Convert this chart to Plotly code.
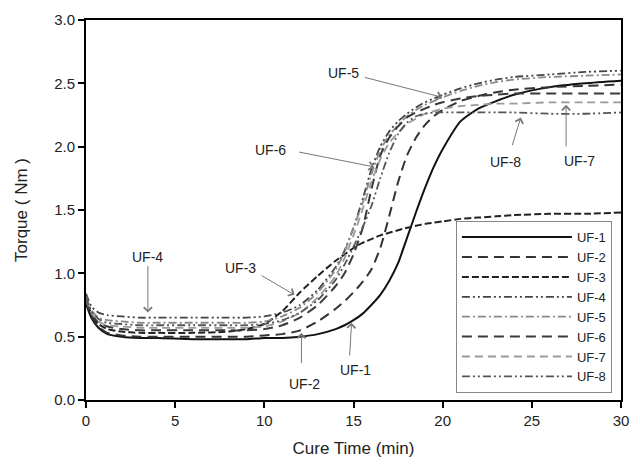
import plotly.graph_objects as go

# Cure time (min)
t = [0, 0.3, 0.7, 1.2, 2, 3, 4, 6, 8, 9, 10, 11, 12, 13, 14, 14.5, 15, 15.5, 16, 16.5,
     17, 17.5, 18, 18.5, 19, 19.5, 20, 21, 22, 23, 24, 26, 28, 30]

uf1 = [0.76, 0.65, 0.57, 0.52, 0.50, 0.49, 0.49, 0.48, 0.48, 0.48, 0.49, 0.49, 0.50, 0.52, 0.56, 0.59, 0.63, 0.68, 0.75, 0.83,
       0.94, 1.08, 1.28, 1.48, 1.67, 1.84, 1.98, 2.20, 2.30, 2.36, 2.41, 2.47, 2.50, 2.52]
uf2 = [0.78, 0.66, 0.58, 0.53, 0.51, 0.50, 0.50, 0.50, 0.50, 0.50, 0.51, 0.52, 0.55, 0.62, 0.72, 0.78, 0.85, 0.93, 1.03, 1.20,
       1.45, 1.72, 1.93, 2.07, 2.17, 2.24, 2.29, 2.36, 2.40, 2.43, 2.45, 2.47, 2.48, 2.49]
uf3 = [0.80, 0.68, 0.60, 0.56, 0.54, 0.53, 0.53, 0.53, 0.54, 0.56, 0.60, 0.70, 0.85, 0.98, 1.10, 1.15, 1.20, 1.24, 1.27, 1.30,
       1.32, 1.34, 1.36, 1.375, 1.39, 1.40, 1.41, 1.43, 1.44, 1.45, 1.46, 1.47, 1.47, 1.48]
uf4 = [0.84, 0.74, 0.69, 0.67, 0.66, 0.65, 0.65, 0.65, 0.65, 0.65, 0.66, 0.69, 0.75, 0.87, 1.05, 1.18, 1.36, 1.58, 1.82, 2.00,
       2.12, 2.20, 2.26, 2.31, 2.35, 2.38, 2.41, 2.46, 2.50, 2.53, 2.55, 2.57, 2.59, 2.60]
uf5 = [0.82, 0.71, 0.65, 0.63, 0.62, 0.61, 0.61, 0.61, 0.61, 0.61, 0.62, 0.66, 0.73, 0.85, 1.03, 1.17, 1.36, 1.55, 1.78, 1.97,
       2.09, 2.17, 2.24, 2.29, 2.33, 2.36, 2.39, 2.44, 2.48, 2.51, 2.53, 2.55, 2.56, 2.57]
uf6 = [0.79, 0.68, 0.61, 0.58, 0.56, 0.55, 0.55, 0.55, 0.55, 0.55, 0.56, 0.59, 0.65, 0.75, 0.90, 1.00, 1.15, 1.35, 1.66, 1.93,
       2.07, 2.16, 2.23, 2.27, 2.30, 2.33, 2.35, 2.38, 2.40, 2.41, 2.42, 2.42, 2.42, 2.42]
uf7 = [0.80, 0.69, 0.62, 0.59, 0.58, 0.57, 0.57, 0.57, 0.57, 0.57, 0.58, 0.62, 0.69, 0.81, 0.98, 1.12, 1.30, 1.50, 1.72, 1.90,
       2.03, 2.11, 2.18, 2.22, 2.26, 2.28, 2.30, 2.32, 2.33, 2.34, 2.34, 2.35, 2.35, 2.35]
uf8 = [0.81, 0.70, 0.64, 0.61, 0.60, 0.59, 0.59, 0.59, 0.59, 0.59, 0.60, 0.63, 0.69, 0.79, 0.95, 1.07, 1.21, 1.36, 1.53, 1.75,
       1.95, 2.10, 2.19, 2.24, 2.26, 2.27, 2.27, 2.27, 2.27, 2.27, 2.27, 2.26, 2.26, 2.27]

names = ["UF-1", "UF-2", "UF-3", "UF-4", "UF-5", "UF-6", "UF-7", "UF-8"]
series = [uf1, uf2, uf3, uf4, uf5, uf6, uf7, uf8]
colors = ["#111111", "#333333", "#222222", "#444444", "#8a8a8a", "#3a3a3a", "#9a9a9a", "#555555"]
dashes = ["solid", "10px,6px", "7px,3px", "8px,3px,2px,3px,2px,3px", "8px,3px,2px,3px",
          "10px,6px", "8px,5px", "8px,3px,2px,3px,2px,3px"]
widths = [2, 2, 2, 1.8, 1.8, 2, 1.8, 1.8]

# label annotations: text position, arrow tail, arrow tip (data units)
ann_labels = ["UF-1", "UF-2", "UF-3", "UF-4", "UF-5", "UF-6", "UF-7", "UF-8"]
ann_text_xy = [(15.11, 0.24), (12.24, 0.13), (8.66, 1.04), (3.47, 1.13),
               (14.45, 2.58), (10.37, 1.97), (27.69, 1.89), (23.55, 1.88)]
ann_tail_xy = [(14.78, 0.34), (12.08, 0.28), (9.76, 0.99), (3.47, 1.07),
               (15.55, 2.55), (11.86, 1.96), (26.92, 1.99), (23.88, 2.00)]
ann_tip_xy = [(14.89, 0.61), (12.08, 0.53), (11.69, 0.83), (3.47, 0.69),
              (19.97, 2.39), (16.16, 1.84), (26.92, 2.33), (24.38, 2.23)]

fig = go.Figure()
for n, s, c, d, w in zip(names, series, colors, dashes, widths):
    fig.add_trace(go.Scatter(x=t, y=s, mode="lines", name=n,
                             line=dict(color=c, dash=d, width=w, shape="spline", smoothing=0.6)))

annotations = []
for lab, txy, tail, tip in zip(ann_labels, ann_text_xy, ann_tail_xy, ann_tip_xy):
    annotations.append(dict(x=txy[0], y=txy[1], xref="x", yref="y", text=lab, showarrow=False,
                            font=dict(size=14, color="#222", family="Liberation Sans, Arial")))
    annotations.append(dict(x=tip[0], y=tip[1], ax=tail[0], ay=tail[1], xref="x", yref="y",
                            axref="x", ayref="y", text="", showarrow=True, arrowhead=4,
                            arrowsize=1.6, arrowwidth=1, arrowcolor="#777"))

fig.update_layout(
    width=640, height=469,
    margin=dict(l=86, r=11, t=20, b=69),
    paper_bgcolor="white", plot_bgcolor="white",
    font=dict(family="Liberation Sans, Arial", size=14, color="#222"),
    xaxis=dict(range=[0, 30], tickvals=[0, 5, 10, 15, 20, 25, 30], showgrid=False, zeroline=False,
               showline=True, linecolor="black", linewidth=2, mirror=True,
               ticks="outside", ticklen=6, tickwidth=2, tickcolor="black",
               title=dict(text="Cure Time (min)", standoff=14), tickfont=dict(size=15)),
    yaxis=dict(range=[0, 3], tickvals=[0, 0.5, 1, 1.5, 2, 2.5, 3], tickformat=".1f", showgrid=False,
               zeroline=False, showline=True, linecolor="black", linewidth=2, mirror=True,
               ticks="outside", ticklen=6, tickwidth=2, tickcolor="black",
               title=dict(text="Torque ( Nm )", standoff=22), tickfont=dict(size=15)),
    legend=dict(x=0.983, y=0.018, xanchor="right", yanchor="bottom", bgcolor="white",
                bordercolor="#888", borderwidth=1, font=dict(size=13), itemwidth=110,
                tracegroupgap=0),
    annotations=annotations,
    showlegend=True,
)

fig.write_html("out.html")
